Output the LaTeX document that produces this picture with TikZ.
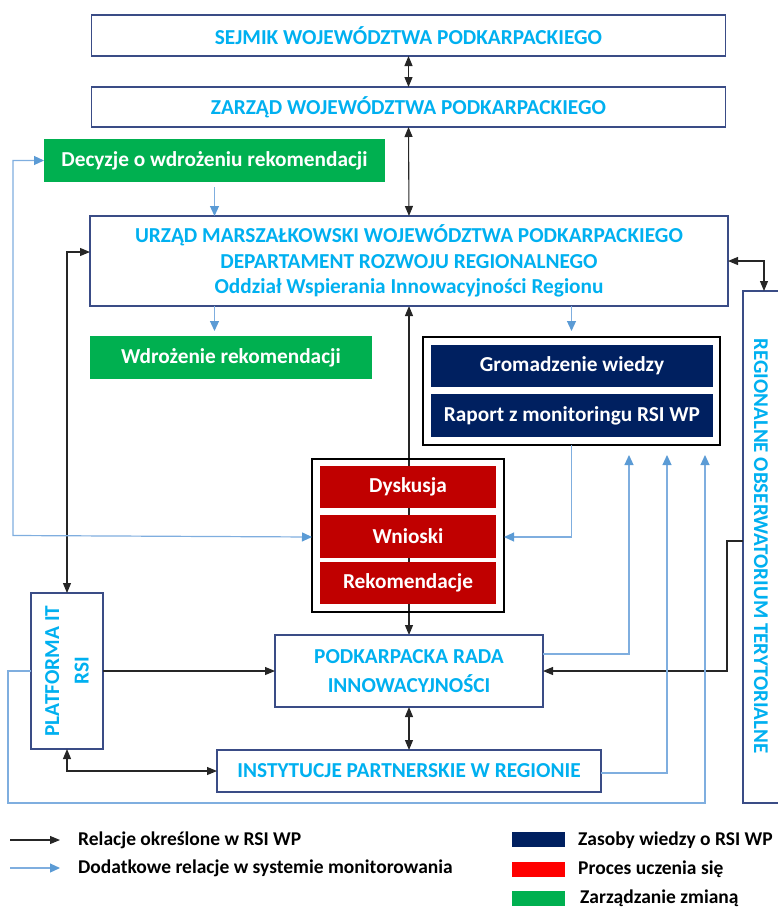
\documentclass[tikz,border=0pt]{standalone}
\usepackage{fontspec}
\setmainfont{Carlito}
\usetikzlibrary{arrows.meta,calc}
\pgfdeclarelayer{background}
\pgfsetlayers{background,main}
\definecolor{txtblue}{HTML}{00B0F0}
\definecolor{boxline}{HTML}{3A4C86}
\definecolor{gr}{HTML}{00B050}
\definecolor{navy}{HTML}{002060}
\definecolor{dred}{HTML}{C00000}
\definecolor{lred}{HTML}{FF0000}
\definecolor{arrblue}{HTML}{5B9BD5}
\definecolor{lineblue}{HTML}{7FAEDF}
\tikzset{
  ft/.style={font=\fontsize{21.3}{25.5}\selectfont\bfseries},
  outlinebox/.style={draw=boxline, line width=1.3pt, fill=white, text=txtblue, ft, align=center, inner sep=0pt, outer sep=0pt},
  greenbox/.style={fill=gr, text=white, ft, align=center, inner sep=0pt, outer sep=0pt},
  navybox/.style={fill=navy, text=white, ft, align=center, inner sep=0pt, outer sep=0pt},
  redbox/.style={fill=dred, text=white, ft, align=center, inner sep=0pt, outer sep=0pt},
  frame/.style={draw=black, line width=1.6pt, inner sep=0pt, outer sep=0pt},
  blk/.style={draw=black!85, line width=1.1pt, -{Triangle[length=10pt,width=8pt]}},
  blkboth/.style={draw=black!85, line width=1.1pt, {Triangle[length=10pt,width=8pt]}-{Triangle[length=10pt,width=8pt]}},
  blu/.style={draw=lineblue, line width=1.2pt, -{Triangle[length=10pt,width=9pt,color=arrblue]}},
  bluboth/.style={draw=lineblue, line width=1.2pt, {Triangle[length=10pt,width=9pt,color=arrblue]}-{Triangle[length=10pt,width=9pt,color=arrblue]}},
  legtext/.style={anchor=west, text=black, font=\fontsize{19.5}{23}\selectfont\bfseries, inner sep=0pt},
}
\begin{document}
\begin{tikzpicture}[x=1pt,y=-1pt]
\useasboundingbox (0,0) rectangle (777,908);
% boxes
\node[outlinebox, minimum width=634, minimum height=41] (sejmik) at (408.5,35.5) {SEJMIK WOJEWÓDZTWA PODKARPACKIEGO};
\node[outlinebox, minimum width=634, minimum height=40] (zarzad) at (408.5,107) {ZARZĄD WOJEWÓDZTWA PODKARPACKIEGO};
\node[greenbox, minimum width=341, minimum height=43] (decyzje) at (214.5,160.5) {Decyzje o wdrożeniu rekomendacji};
\node[outlinebox, minimum width=638, minimum height=90] (urzad) at (409,261) {URZĄD MARSZAŁKOWSKI WOJEWÓDZTWA PODKARPACKIEGO\\DEPARTAMENT ROZWOJU REGIONALNEGO\\Oddział Wspierania Innowacyjności Regionu};
\node[greenbox, minimum width=282, minimum height=43] (wdroz) at (231,357.5) {Wdrożenie rekomendacji};
\node[frame, minimum width=297, minimum height=108] (gromout) at (571.5,391) {};
\node[navybox, minimum width=282, minimum height=42] (grom) at (572,366) {Gromadzenie wiedzy};
\node[navybox, minimum width=282, minimum height=43] (raport) at (572,415.5) {Raport z monitoringu RSI WP};
\node[frame, minimum width=192, minimum height=153] (dysout) at (408,535.5) {};
\node[outlinebox, minimum width=268, minimum height=72] (pri) at (409,671) {PODKARPACKA RADA\\[4pt]INNOWACYJNOŚCI};
\node[outlinebox, minimum width=72, minimum height=156] (plat) at (67,671) {};
\node[text=txtblue, ft, align=center, rotate=90, inner sep=0pt] (plattxt) at (plat.center) {PLATFORMA IT\\[4pt]RSI};
\node[outlinebox, minimum width=384, minimum height=42] (inst) at (409,771) {INSTYTUCJE PARTNERSKIE W REGIONIE};
\node[outlinebox, minimum width=38, minimum height=512] (reg) at (762,547) {};
\node[text=txtblue, font=\fontsize{21}{25}\selectfont\bfseries, rotate=-90, inner sep=0pt] (regtxt) at (761,546) {REGIONALNE OBSERWATORIUM TERYTORIALNE};
% line behind the red boxes
\begin{pgfonlayer}{background}
\draw[blkboth] (pri.north) -- (pri.north |- urzad.south);
\end{pgfonlayer}
\node[redbox, minimum width=176, minimum height=42] (dys) at (408,487) {Dyskusja};
\node[redbox, minimum width=176, minimum height=43] (wn) at (408,536.5) {Wnioski};
\node[redbox, minimum width=176, minimum height=42] (rek) at (408,583) {Rekomendacje};
% helper coordinates
\coordinate (lb) at (13,0);
\coordinate (rj) at (727,0);
\coordinate (lp) at (8,803);
\coordinate (a1) at (629,455);
\coordinate (a2) at (667,455);
\coordinate (a3) at (705,455);
% black connectors
\draw[blkboth] (sejmik.south) -- (zarzad.north);
\draw[blkboth] (zarzad.south) -- (urzad.north);
\draw[blkboth] (urzad.east) -| ([xshift=2pt]reg.north);
\draw[blkboth] (plat.north) |- ([yshift=9pt]urzad.west);
\draw[blk] (plat.east) -- (pri.west);
\draw[blkboth] (plat.south) |- (inst.west);
\draw[blkboth] (pri.south) -- (inst.north);
\draw[blk] ([yshift=6pt]reg.west) -| (rj |- pri.east) -- (pri.east);
% blue connectors
\draw[blu, shorten <=5pt] (decyzje.south) -- (decyzje.south |- urzad.north);
\draw[blu, shorten >=5pt] (decyzje.south |- urzad.south) -- (decyzje.south |- wdroz.north);
\draw[blu, shorten >=6pt] (gromout.north |- urzad.south) -- (gromout.north);
\draw[blu] (gromout.south) |- ([yshift=-1.5pt]dysout.east);
\draw[bluboth] (decyzje.west) -- (decyzje.west -| lb) -- (lb |- dysout.west) -- ([yshift=-1.5pt]dysout.west);
\draw[blu] ([yshift=17pt]pri.east) -| (a1);
\draw[blu] ([yshift=-2pt]inst.east) -| (a2);
\draw[blu] (plat.west) -| (lp) -| (a3);
% legend
\coordinate (l1a) at (10,840); \coordinate (l1b) at (60,840);
\coordinate (l2a) at (10,868); \coordinate (l2b) at (60,868);
\draw[blk] (l1a) -- (l1b);
\draw[blu] (l2a) -- (l2b);
\node[legtext] (lt1) at (78,840) {Relacje określone w RSI WP};
\node[legtext] (lt2) at (78,868) {Dodatkowe relacje w systemie monitorowania};
\node[fill=navy, minimum width=53, minimum height=15, inner sep=0pt] (sw1) at (538.5,839.5) {};
\node[fill=lred, minimum width=53, minimum height=15, inner sep=0pt] (sw2) at (538.5,869.5) {};
\node[fill=gr, minimum width=53, minimum height=15, inner sep=0pt] (sw3) at (538.5,898.5) {};
\node[legtext] (lt3) at (578,840) {Zasoby wiedzy o RSI WP};
\node[legtext] (lt4) at (578,869) {Proces uczenia się};
\node[legtext] (lt5) at (580,898) {Zarządzanie zmianą};
\end{tikzpicture}
\end{document}
